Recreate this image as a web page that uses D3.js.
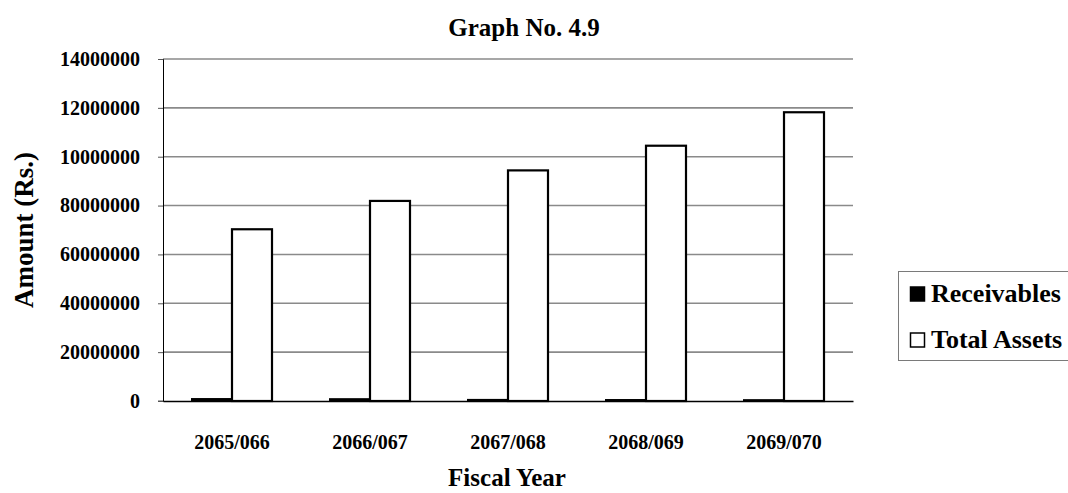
<!DOCTYPE html>
<html>
<head lang="en">
  <meta charset="UTF-8">
  <title>Graph No. 4.9</title>
  <script src="https://d3js.org/d3.v7.min.js" charset="utf-8"></script>
  <style>
    body { margin: 0; background: #fff; }
    text { font-family: "Liberation Serif", "Times New Roman", serif; font-weight: bold; fill: #000; }
  </style>
</head>
<body>
  <script type="text/javascript">
    // chart data
    var years = ['2065/066', '2066/067', '2067/068', '2068/069', '2069/070'];
    var receivables = [80000, 75000, 45000, 40000, 35000];
    var totalAssets = [7030000, 8190000, 9440000, 10450000, 11820000];
    var tickValues = [0, 2000000, 4000000, 6000000, 8000000, 10000000, 12000000, 14000000];
    // labels as printed on the original (truncated by the spreadsheet)
    var tickLabels = ['0', '20000000', '40000000', '60000000', '80000000', '10000000', '12000000', '14000000'];
    var seriesNames = ['Receivables', 'Total Assets'];
    var seriesFill = ['#000', '#fff'];

    var W = 1068, H = 493;
    // plot area edges (note: "top" is reserved on window, so use p*)
    var pLeft = 163, pRight = 853, pTop = 59, pBottom = 401;

    var svg = d3.select('body')
        .append('svg')
        .attr('width', W)
        .attr('height', H);

    var x = d3.scaleBand()
        .domain(years)
        .range([pLeft, pRight])
        .paddingInner(0)
        .paddingOuter(0);

    var y = d3.scaleLinear()
        .domain([0, 14000000])
        .range([pBottom, pTop]);

    // gridlines
    svg.append('g')
        .selectAll('line')
        .data(tickValues.slice(1))
        .enter()
        .append('line')
        .attr('x1', pLeft)
        .attr('x2', pRight)
        .attr('y1', function (d) { return y(d); })
        .attr('y2', function (d) { return y(d); })
        .attr('stroke', '#8a8a8a')
        .attr('stroke-width', 1.6);

    // y axis
    var yAxis = svg.append('g')
        .attr('transform', 'translate(' + pLeft + ',0)')
        .call(d3.axisLeft(y)
            .tickValues(tickValues)
            .tickSize(5)
            .tickPadding(18)
            .tickFormat(function (d, i) { return tickLabels[i]; }));
    yAxis.select('.domain').attr('stroke', '#000');
    yAxis.selectAll('.tick line').attr('stroke', '#555');
    yAxis.selectAll('text')
        .style('font-family', '"Liberation Serif", serif')
        .style('font-weight', 'bold')
        .style('font-size', '20px')
        .attr('fill', '#000');

    // bars
    var barW = 40;
    var groups = svg.append('g')
        .selectAll('g')
        .data(years)
        .enter()
        .append('g');

    groups.append('rect')
        .attr('x', function (d) { return x(d) + x.bandwidth() / 2 - barW; })
        .attr('y', function (d, i) { return y(receivables[i]); })
        .attr('width', barW)
        .attr('height', function (d, i) { return pBottom - y(receivables[i]); })
        .attr('fill', seriesFill[0])
        .attr('stroke', '#000')
        .attr('stroke-width', 2);

    groups.append('rect')
        .attr('x', function (d) { return x(d) + x.bandwidth() / 2; })
        .attr('y', function (d, i) { return y(totalAssets[i]); })
        .attr('width', barW)
        .attr('height', function (d, i) { return pBottom - y(totalAssets[i]); })
        .attr('fill', seriesFill[1])
        .attr('stroke', '#000')
        .attr('stroke-width', 2.2);

    // x axis
    var xAxis = svg.append('g')
        .attr('transform', 'translate(0,' + pBottom + ')')
        .call(d3.axisBottom(x).tickSize(0));
    xAxis.select('.domain').attr('stroke', '#000').attr('stroke-width', 1.5);
    xAxis.selectAll('text')
        .attr('y', 48)
        .attr('dy', 0)
        .style('font-family', '"Liberation Serif", serif')
        .style('font-weight', 'bold')
        .style('font-size', '20px')
        .attr('fill', '#000');
    svg.append('line')
        .attr('x1', pLeft - 5).attr('x2', pLeft)
        .attr('y1', pBottom).attr('y2', pBottom)
        .attr('stroke', '#555');

    // titles
    svg.append('text')
        .attr('x', 524)
        .attr('y', 36)
        .attr('text-anchor', 'middle')
        .style('font-size', '25px')
        .text('Graph No. 4.9');

    svg.append('text')
        .attr('transform', 'translate(33,' + 230 + ') rotate(-90)')
        .attr('text-anchor', 'middle')
        .style('font-size', '27px')
        .text('Amount (Rs.)');

    svg.append('text')
        .attr('x', 507)
        .attr('y', 486)
        .attr('text-anchor', 'middle')
        .style('font-size', '25px')
        .text('Fiscal Year');

    // legend
    var legend = svg.append('g');
    legend.append('rect')
        .attr('x', 898.5)
        .attr('y', 271.5)
        .attr('width', 180)
        .attr('height', 89)
        .attr('fill', '#fff')
        .attr('stroke', '#7a7a7a')
        .attr('stroke-width', 1);

    var items = legend.selectAll('g.item')
        .data(seriesNames)
        .enter()
        .append('g')
        .attr('class', 'item')
        .attr('transform', function (d, i) { return 'translate(910,' + (302 + i * 46) + ')'; });
    items.append('rect')
        .attr('x', 0.5)
        .attr('y', -15)
        .attr('width', 14)
        .attr('height', 14)
        .attr('fill', function (d, i) { return seriesFill[i]; })
        .attr('stroke', '#000')
        .attr('stroke-width', 1.5);
    items.append('text')
        .attr('x', 21)
        .attr('y', 0)
        .style('font-size', '26px')
        .text(function (d) { return d; });
  </script>
</body>
</html>
